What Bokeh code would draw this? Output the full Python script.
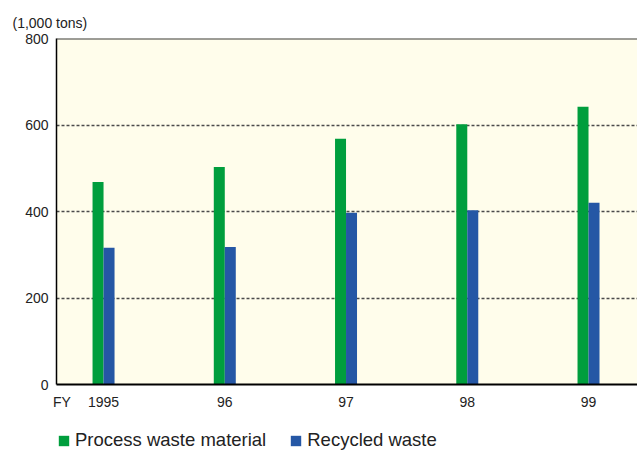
from bokeh.plotting import figure
from bokeh.layouts import column
from bokeh.models import (ColumnDataSource, Range1d, Span, Legend,
                          LegendItem, FixedTicker, Title)
from bokeh.transform import dodge
from bokeh.embed import file_html
from bokeh.resources import INLINE

# Fiscal years and tonnage (1,000 tons)
years = ["1995", "96", "97", "98", "99"]
process_waste = [468, 503, 568, 602, 642]
recycled_waste = [316, 318, 397, 403, 420]
y_ticks = [0, 200, 400, 600, 800]
series_names = ["Process waste material", "Recycled waste"]

GREEN = "#009E3D"
BLUE = "#2557A5"
FONT = "'Liberation Sans', Arial, sans-serif"
TXT = "#222222"

xs = list(range(len(years)))
src = ColumnDataSource(dict(x=xs, year=years, process=process_waste,
                            recycled=recycled_waste))

p = figure(width=637, height=421, x_range=Range1d(-0.388, 4.404),
           y_range=Range1d(0, 800), output_backend="svg",
           toolbar_location=None, min_border_left=56, min_border_right=0,
           min_border_top=38, min_border_bottom=37)
p.background_fill_color = "#FFFDEB"
p.border_fill_color = "white"
p.outline_line_color = None

bw = 0.0907
p.vbar(x=dodge("x", -bw / 2, range=p.x_range), top="process", width=bw,
       bottom=0, source=src, fill_color=GREEN, line_color=None)
p.vbar(x=dodge("x", bw / 2, range=p.x_range), top="recycled", width=bw,
       bottom=0, source=src, fill_color=BLUE, line_color=None)

# grid
p.xgrid.grid_line_color = None
p.ygrid.ticker = FixedTicker(ticks=[200, 400, 600])
p.ygrid.grid_line_color = "#4a4a4a"
p.ygrid.grid_line_dash = "3 2"
p.ygrid.grid_line_width = 1.3

# top border of the plotting area
p.add_layout(Span(location=800, dimension="width", line_color="#3c3c3c",
                  line_width=2))

# y axis
p.yaxis.ticker = FixedTicker(ticks=y_ticks)
p.yaxis.axis_line_color = "black"
p.yaxis.axis_line_width = 1.5
p.yaxis.major_tick_line_color = None
p.yaxis.minor_tick_line_color = None
p.yaxis.major_tick_out = 0
p.yaxis.major_label_standoff = 8
p.yaxis.major_label_text_font = FONT
p.yaxis.major_label_text_font_size = "14px"
p.yaxis.major_label_text_color = TXT

# x axis: the "FY" caption sits at the left as an extra tick label
fy_pos = -0.343
p.xaxis.ticker = FixedTicker(ticks=[fy_pos] + xs)
overrides = {i: y for i, y in zip(xs, years)}
overrides[fy_pos] = "FY"
p.xaxis.major_label_overrides = overrides
p.xaxis.axis_line_color = "black"
p.xaxis.axis_line_width = 2
p.xaxis.major_tick_line_color = None
p.xaxis.minor_tick_line_color = None
p.xaxis.major_tick_out = 0
p.xaxis.major_label_standoff = 9
p.xaxis.major_label_text_font = FONT
p.xaxis.major_label_text_font_size = "14px"
p.xaxis.major_label_text_color = TXT

# unit caption above the value axis
p.add_layout(Title(text="(1,000 tons)", align="left", offset=-44,
                   standoff=16, text_font=FONT, text_font_size="14px",
                   text_font_style="normal", text_color=TXT), "above")

# legend strip under the chart; its key renderers share the data but sit
# outside the strip's visible ranges so only the legend shows
lg = figure(width=637, height=30, output_backend="svg", toolbar_location=None,
            x_range=Range1d(100, 101), y_range=Range1d(5000, 5001),
            x_axis_location=None, y_axis_location=None,
            min_border=0, min_border_left=0, min_border_right=0,
            min_border_top=0, min_border_bottom=0)
lg.outline_line_color = None
lg.xgrid.grid_line_color = None
lg.ygrid.grid_line_color = None
k1 = lg.vbar(x="x", top="process", width=bw, source=src,
             fill_color=GREEN, line_color=None)
k2 = lg.vbar(x="x", top="recycled", width=bw, source=src,
             fill_color=BLUE, line_color=None)

legend = Legend(items=[LegendItem(label=series_names[0], renderers=[k1]),
                       LegendItem(label=series_names[1], renderers=[k2])],
                location=(1, 0), orientation="horizontal",
                border_line_color=None, background_fill_alpha=0,
                label_text_font=FONT, label_text_font_size="18.5px",
                label_text_color=TXT, glyph_width=13, glyph_height=13,
                label_height=20, label_standoff=5, spacing=23,
                padding=0, margin=0)
lg.add_layout(legend, "center")

layout = column(p, lg, spacing=0)
open("out.html", "w").write(file_html(layout, INLINE))
